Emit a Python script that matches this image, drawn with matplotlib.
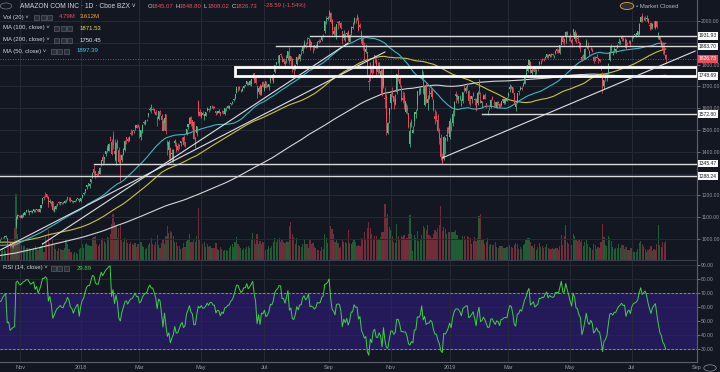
import numpy as np
import pandas as pd
import matplotlib
matplotlib.use("Agg")
import matplotlib.pyplot as plt
from matplotlib.patches import Rectangle, Circle
from matplotlib.transforms import blended_transform_factory

# ---- data -------------------------------------------------------------
# daily closes before the visible window (only used to warm up MA / RSI), Dec 19 2016 - Oct 6 2017
history_close = [
    766, 771, 770, 761, 760, 771, 785, 782, 750,
    753, 757, 780, 796, 799, 796, 799, 813, 817, 809, 808, 810, 808, 818, 823, 837, 839, 836, 831, 823,
    833, 840, 810, 808, 813, 820, 821, 821, 836, 838, 842, 842, 846, 856, 855, 852, 845, 848, 845,
    853, 852, 849, 847, 848, 853, 852, 852, 854, 852, 852, 853, 852, 848, 843, 848, 842, 846, 850, 856, 875, 877, 886,
    891, 906, 909, 898, 894, 902, 896, 884, 884, 901, 903, 899, 902, 898, 907, 909, 907, 918, 925,
    948, 946, 941, 937, 934, 949, 952, 949, 947, 961, 966, 975, 953, 958, 959, 970, 980, 981, 994, 995, 997, 994,
    995, 1012, 1011, 1003, 1011, 1010, 978, 965, 980, 976, 964, 987, 995, 1002, 1003, 1002, 1003, 993, 980, 990, 975, 969,
    953, 971, 978, 996, 996, 994, 1006, 1006, 1001, 1010, 1024, 1027, 1025, 1026, 1039, 1043, 1052, 1046, 1020, 1021,
    996, 995, 987, 988, 989, 982, 987, 957, 967, 983, 977, 978, 961, 958, 953, 966, 958, 952, 945, 946, 954, 967, 980,
    966, 965, 980, 979, 965, 977, 983, 999, 993, 987, 974, 969, 973, 964, 955, 939, 938, 950, 956, 961,
    959, 957, 965, 980, 989,
]

# visible daily candles, Oct 9 2017 - Aug 2 2019
open_ = [
    993, 992, 990, 997, 1003, 1008, 1007, 1010, 1003, 987, 982, 970, 969, 980, 1058, 1096, 1109,
    1105, 1097, 1112, 1110, 1125, 1132, 1126, 1126, 1124, 1130, 1127, 1132, 1138, 1126, 1142, 1162, 1192, 1196, 1205, 1194, 1171,
    1172, 1173, 1128, 1138, 1156, 1170, 1163, 1166, 1170, 1164, 1179, 1187, 1189, 1190, 1175, 1173, 1169, 1180, 1185, 1182,
    1173, 1189, 1206, 1218, 1237, 1253, 1242, 1260, 1280, 1323, 1313, 1296, 1312, 1298, 1338, 1375, 1368, 1392, 1409, 1404, 1451,
    1445, 1477, 1402, 1361, 1449, 1406, 1361, 1364, 1388, 1406, 1468, 1460, 1449, 1485, 1496, 1495, 1509, 1524, 1519,
    1513, 1470, 1494, 1533, 1527, 1550, 1563, 1592, 1616, 1597, 1596, 1584, 1555, 1550, 1586, 1565, 1539, 1530, 1572, 1447, 1406,
    1417, 1392, 1359, 1441, 1429, 1426, 1431, 1439, 1465, 1469, 1446, 1482, 1512, 1529, 1560, 1547, 1535, 1459, 1485, 1634, 1582,
    1564, 1580, 1566, 1563, 1589, 1598, 1601, 1608, 1610, 1604, 1587, 1580, 1580, 1581, 1586, 1589, 1573, 1601, 1603, 1600, 1618, 1624,
    1637, 1649, 1672, 1699, 1699, 1683, 1681, 1693, 1707, 1709, 1714, 1707, 1709, 1742, 1760, 1742, 1703, 1673, 1708, 1672, 1718,
    1683, 1723, 1705, 1697, 1724, 1746, 1718, 1764, 1803, 1820, 1811, 1849, 1830, 1826, 1812, 1829, 1829, 1840, 1839, 1827, 1786,
    1784, 1803, 1837, 1825, 1855, 1861, 1883, 1888, 1898, 1919, 1909, 1903, 1885, 1890, 1878, 1876, 1907, 1910, 1915, 1937, 1953, 1998, 2007,
    2026, 2038, 2006, 1939, 1971, 1928, 1994, 1999, 1992, 1954, 1923, 1941, 1939, 1954, 1904, 1943, 1968, 1993, 2005,
    2021, 1999, 1981, 1949, 1917, 1874, 1860, 1858, 1724, 1808, 1795, 1783, 1842, 1821, 1785, 1784, 1742, 1773, 1703, 1649, 1660, 1487, 1569,
    1623, 1678, 1658, 1619, 1673, 1755, 1732, 1698, 1649, 1656, 1581, 1600, 1578, 1437, 1543, 1487, 1540, 1575, 1614, 1674, 1679,
    1769, 1757, 1615, 1705, 1624, 1679, 1670, 1680, 1638, 1566, 1565, 1544, 1484, 1464, 1378, 1368, 1455, 1474, 1510,
    1466, 1520, 1531, 1587, 1664, 1653, 1642, 1641, 1616, 1632, 1684, 1681, 1713, 1681, 1657, 1642, 1670, 1644, 1640, 1623, 1692,
    1639, 1624, 1643, 1660, 1626, 1586, 1600, 1604, 1648, 1624, 1627, 1601, 1630, 1619, 1613, 1642, 1625, 1628, 1634,
    1655, 1686, 1702, 1696, 1668, 1604, 1626, 1678, 1684, 1691, 1703, 1713, 1753, 1770, 1797, 1810, 1760, 1787, 1785, 1771, 1786,
    1801, 1811, 1826, 1820, 1829, 1833, 1845, 1841, 1848, 1849, 1842, 1852, 1872, 1868, 1855, 1891, 1926, 1917, 1929, 1950, 1931,
    1933, 1913, 1950, 1918, 1940, 1919, 1900, 1898, 1836, 1838, 1827, 1885, 1887, 1852, 1874, 1866, 1837, 1836, 1832, 1828, 1826, 1791,
    1760, 1700, 1749, 1737, 1763, 1822, 1883, 1855, 1866, 1864, 1876, 1901, 1907, 1933, 1916, 1913, 1912, 1898, 1902, 1910,
    1922, 1935, 1935, 1934, 1935, 1940, 1996, 2025, 2008, 2021, 2010, 2008, 1980, 1991, 1971, 1996, 1970, 2001, 1942, 1930, 1891, 1898,
    1871, 1845,
]
high = [
    1000, 998, 996, 1002, 1007, 1011, 1014, 1017, 1004, 993, 984, 974, 977, 987, 1106, 1114, 1111,
    1112, 1113, 1120, 1125, 1133, 1136, 1130, 1131, 1132, 1138, 1137, 1138, 1139, 1140, 1158, 1189, 1197, 1214, 1205, 1195, 1182,
    1175, 1175, 1151, 1156, 1163, 1173, 1172, 1172, 1172, 1178, 1182, 1194, 1192, 1191, 1177, 1175, 1178, 1184, 1188, 1184,
    1190, 1206, 1216, 1229, 1248, 1259, 1255, 1277, 1306, 1339, 1314, 1305, 1313, 1328, 1364, 1388, 1378, 1402, 1431, 1440, 1473,
    1459, 1495, 1459, 1444, 1460, 1421, 1388, 1392, 1416, 1452, 1468, 1466, 1471, 1503, 1502, 1500, 1522, 1527, 1529,
    1518, 1501, 1526, 1542, 1546, 1552, 1579, 1606, 1617, 1606, 1596, 1590, 1563, 1587, 1591, 1573, 1549, 1556, 1575, 1455, 1455,
    1421, 1415, 1411, 1459, 1447, 1439, 1438, 1450, 1469, 1475, 1447, 1503, 1528, 1561, 1566, 1548, 1539, 1469, 1517, 1638, 1597,
    1584, 1588, 1575, 1584, 1606, 1601, 1609, 1615, 1611, 1611, 1589, 1588, 1595, 1584, 1592, 1589, 1602, 1606, 1614, 1615, 1626, 1634,
    1646, 1666, 1699, 1701, 1700, 1690, 1699, 1705, 1709, 1725, 1720, 1728, 1736, 1763, 1762, 1743, 1705, 1702, 1713, 1705, 1723,
    1714, 1725, 1710, 1711, 1740, 1750, 1756, 1797, 1814, 1844, 1843, 1851, 1841, 1831, 1821, 1845, 1864, 1880, 1840, 1829, 1801,
    1798, 1837, 1842, 1847, 1870, 1889, 1915, 1902, 1926, 1921, 1916, 1905, 1888, 1891, 1895, 1906, 1917, 1916, 1927, 1942, 1999, 2025, 2022,
    2050, 2040, 2007, 1969, 1979, 1988, 2000, 2000, 1994, 1956, 1958, 1945, 1949, 1957, 1940, 1975, 1996, 2017, 2012,
    2033, 2017, 1990, 1958, 1929, 1903, 1895, 1858, 1755, 1812, 1796, 1819, 1845, 1830, 1810, 1810, 1779, 1778, 1794, 1699, 1665, 1536, 1598,
    1670, 1697, 1658, 1665, 1759, 1784, 1744, 1708, 1677, 1673, 1626, 1614, 1578, 1535, 1550, 1517, 1582, 1597, 1677, 1694, 1696,
    1778, 1770, 1701, 1719, 1660, 1696, 1705, 1692, 1643, 1597, 1585, 1572, 1509, 1480, 1396, 1473, 1469, 1514, 1520,
    1553, 1538, 1594, 1634, 1677, 1667, 1656, 1660, 1640, 1675, 1705, 1700, 1716, 1682, 1657, 1657, 1673, 1645, 1647, 1679, 1736,
    1673, 1634, 1665, 1672, 1626, 1591, 1610, 1640, 1656, 1637, 1629, 1634, 1634, 1624, 1634, 1646, 1640, 1641, 1651,
    1674, 1710, 1707, 1697, 1669, 1622, 1670, 1683, 1701, 1702, 1719, 1747, 1784, 1800, 1823, 1818, 1788, 1790, 1787, 1780, 1787,
    1815, 1821, 1830, 1829, 1838, 1850, 1848, 1848, 1851, 1851, 1846, 1869, 1876, 1871, 1888, 1929, 1929, 1923, 1955, 1956, 1931,
    1944, 1921, 1964, 1959, 1950, 1935, 1910, 1903, 1846, 1850, 1874, 1917, 1904, 1867, 1880, 1874, 1838, 1840, 1849, 1829, 1826, 1796,
    1766, 1730, 1752, 1760, 1806, 1884, 1894, 1865, 1880, 1874, 1896, 1922, 1913, 1935, 1925, 1920, 1916, 1903, 1911, 1912,
    1929, 1935, 1941, 1945, 1955, 1990, 2024, 2035, 2017, 2023, 2026, 2013, 1987, 1996, 1990, 1998, 2001, 2002, 1951, 1933, 1914, 1899,
    1897, 1849,
]
low = [
    985, 984, 985, 993, 1000, 1004, 1005, 1006, 976, 980, 962, 964, 961, 972, 1052, 1093, 1101,
    1095, 1096, 1100, 1108, 1122, 1126, 1110, 1124, 1121, 1124, 1122, 1129, 1125, 1125, 1141, 1160, 1178, 1191, 1189, 1145, 1164,
    1152, 1129, 1124, 1137, 1151, 1159, 1158, 1162, 1162, 1163, 1169, 1180, 1176, 1172, 1170, 1166, 1168, 1174, 1180, 1169,
    1170, 1188, 1201, 1211, 1230, 1242, 1235, 1258, 1278, 1292, 1280, 1284, 1289, 1296, 1337, 1338, 1350, 1381, 1401, 1402, 1448,
    1385, 1414, 1358, 1339, 1415, 1350, 1265, 1352, 1387, 1402, 1436, 1446, 1448, 1478, 1475, 1486, 1499, 1511, 1512,
    1465, 1455, 1487, 1528, 1522, 1542, 1560, 1586, 1578, 1590, 1578, 1569, 1518, 1545, 1567, 1542, 1495, 1499, 1482, 1386, 1366,
    1356, 1355, 1352, 1428, 1397, 1402, 1415, 1428, 1449, 1428, 1424, 1478, 1505, 1527, 1520, 1503, 1460, 1417, 1474, 1566, 1566,
    1554, 1567, 1545, 1562, 1587, 1581, 1592, 1600, 1597, 1599, 1571, 1575, 1578, 1566, 1580, 1575, 1568, 1587, 1600, 1597, 1613, 1621,
    1635, 1643, 1670, 1679, 1683, 1673, 1681, 1693, 1701, 1708, 1708, 1706, 1702, 1740, 1717, 1711, 1646, 1663, 1660, 1662, 1699,
    1678, 1692, 1696, 1683, 1715, 1728, 1717, 1762, 1796, 1807, 1793, 1834, 1811, 1803, 1791, 1809, 1822, 1802, 1792, 1766, 1754,
    1776, 1800, 1820, 1818, 1843, 1855, 1876, 1877, 1893, 1900, 1869, 1883, 1855, 1866, 1876, 1875, 1900, 1902, 1909, 1928, 1945, 1987, 2004,
    2013, 1989, 1935, 1938, 1931, 1917, 1962, 1981, 1963, 1895, 1913, 1902, 1927, 1910, 1902, 1937, 1962, 1988, 1993,
    2003, 1955, 1966, 1898, 1868, 1820, 1854, 1754, 1685, 1726, 1740, 1761, 1807, 1749, 1756, 1761, 1685, 1656, 1692, 1603, 1476, 1480, 1534,
    1598, 1651, 1595, 1614, 1665, 1725, 1699, 1631, 1625, 1597, 1576, 1573, 1511, 1420, 1515, 1485, 1518, 1557, 1590, 1662, 1666,
    1731, 1665, 1609, 1625, 1590, 1640, 1660, 1641, 1585, 1528, 1542, 1490, 1436, 1363, 1345, 1363, 1391, 1450, 1485,
    1460, 1497, 1519, 1566, 1625, 1637, 1625, 1637, 1611, 1626, 1675, 1668, 1683, 1617, 1612, 1625, 1658, 1614, 1586, 1615, 1666,
    1622, 1601, 1643, 1640, 1600, 1571, 1590, 1600, 1637, 1607, 1604, 1600, 1614, 1600, 1609, 1632, 1620, 1620, 1633,
    1651, 1674, 1689, 1668, 1620, 1586, 1626, 1661, 1683, 1684, 1703, 1712, 1745, 1768, 1787, 1763, 1750, 1771, 1749, 1759, 1772,
    1798, 1801, 1815, 1816, 1825, 1829, 1828, 1835, 1836, 1838, 1832, 1848, 1855, 1855, 1850, 1889, 1898, 1888, 1901, 1934, 1906,
    1910, 1882, 1938, 1910, 1900, 1910, 1875, 1856, 1818, 1830, 1825, 1883, 1868, 1842, 1866, 1856, 1806, 1816, 1828, 1806, 1812, 1773,
    1672, 1690, 1723, 1726, 1755, 1818, 1858, 1845, 1860, 1855, 1874, 1893, 1893, 1906, 1909, 1904, 1872, 1889, 1898, 1884,
    1909, 1921, 1930, 1925, 1932, 1938, 1995, 1995, 2003, 2001, 2001, 1992, 1960, 1962, 1962, 1974, 1963, 1967, 1918, 1905, 1879, 1849,
    1844, 1808,
]
close = [
    990, 987, 995, 1000, 1002, 1009, 1013, 1016, 981, 982, 968, 970, 972, 973, 1100, 1110, 1105,
    1103, 1111, 1120, 1124, 1132, 1132, 1129, 1126, 1130, 1136, 1127, 1137, 1129, 1139, 1156, 1186, 1186, 1195, 1193, 1161, 1176,
    1162, 1133, 1141, 1152, 1160, 1163, 1168, 1165, 1164, 1174, 1179, 1191, 1187, 1177, 1175, 1168, 1176, 1182, 1186, 1169,
    1189, 1204, 1210, 1229, 1247, 1254, 1254, 1276, 1305, 1304, 1295, 1293, 1294, 1327, 1362, 1357, 1377, 1402, 1418, 1438, 1450,
    1390, 1430, 1390, 1442, 1417, 1351, 1339, 1386, 1414, 1451, 1461, 1448, 1468, 1482, 1485, 1500, 1522, 1511, 1512,
    1493, 1500, 1524, 1537, 1545, 1551, 1579, 1598, 1591, 1591, 1582, 1571, 1544, 1586, 1581, 1544, 1495, 1555, 1497, 1431, 1447,
    1371, 1392, 1410, 1451, 1406, 1407, 1428, 1448, 1460, 1431, 1441, 1503, 1527, 1557, 1527, 1517, 1460, 1461, 1517, 1573, 1566,
    1582, 1570, 1572, 1581, 1601, 1593, 1609, 1610, 1602, 1601, 1577, 1588, 1587, 1572, 1585, 1581, 1602, 1603, 1611, 1612, 1625, 1630,
    1642, 1665, 1696, 1696, 1689, 1683, 1690, 1704, 1704, 1723, 1715, 1724, 1734, 1750, 1731, 1716, 1663, 1691, 1660, 1701, 1699,
    1713, 1693, 1699, 1710, 1740, 1739, 1755, 1797, 1813, 1823, 1843, 1842, 1813, 1813, 1802, 1829, 1864, 1808, 1818, 1780, 1777,
    1797, 1834, 1823, 1847, 1848, 1886, 1898, 1886, 1896, 1920, 1882, 1885, 1882, 1876, 1883, 1904, 1902, 1905, 1927, 1932, 1998, 2002, 2012,
    2039, 1994, 1958, 1952, 1939, 1987, 1990, 1989, 1970, 1909, 1941, 1926, 1944, 1915, 1934, 1974, 1974, 2012, 2003,
    2004, 1960, 1971, 1909, 1890, 1864, 1870, 1755, 1719, 1789, 1760, 1819, 1831, 1770, 1764, 1789, 1769, 1664, 1782, 1642, 1538, 1530, 1599,
    1665, 1665, 1627, 1642, 1755, 1754, 1713, 1637, 1636, 1632, 1631, 1593, 1512, 1496, 1516, 1502, 1581, 1581, 1677, 1674, 1690,
    1772, 1669, 1700, 1630, 1642, 1643, 1663, 1650, 1591, 1551, 1551, 1495, 1460, 1377, 1350, 1470, 1462, 1478, 1502,
    1539, 1500, 1575, 1629, 1656, 1659, 1656, 1641, 1617, 1674, 1683, 1693, 1696, 1632, 1640, 1654, 1670, 1637, 1594, 1670, 1718,
    1626, 1634, 1658, 1640, 1614, 1588, 1591, 1638, 1640, 1622, 1608, 1627, 1622, 1602, 1632, 1633, 1640, 1641, 1640,
    1672, 1696, 1692, 1669, 1626, 1620, 1670, 1673, 1691, 1686, 1713, 1742, 1761, 1798, 1820, 1765, 1774, 1784, 1766, 1774, 1781,
    1814, 1813, 1820, 1819, 1837, 1849, 1835, 1847, 1844, 1843, 1845, 1863, 1864, 1862, 1888, 1923, 1902, 1902, 1951, 1938, 1926,
    1912, 1900, 1962, 1951, 1921, 1918, 1899, 1890, 1822, 1840, 1871, 1908, 1870, 1859, 1877, 1864, 1816, 1824, 1836, 1819, 1816, 1775,
    1692, 1729, 1738, 1754, 1805, 1860, 1863, 1855, 1870, 1870, 1887, 1901, 1908, 1918, 1911, 1913, 1878, 1897, 1904, 1893,
    1922, 1935, 1939, 1943, 1953, 1988, 2017, 2001, 2011, 2020, 2010, 1992, 1977, 1964, 1985, 1994, 2001, 1973, 1943, 1912, 1899, 1867,
    1855, 1827,
]
# volume, millions of shares
volume = [
    3.0, 2.7, 2.5, 2.4, 2.3, 3.0, 2.7, 2.3, 5.1, 3.5, 4.4, 3.4, 4.0, 8.0, 16.6, 6.6, 4.5,
    3.7, 3.7, 3.6, 3.5, 3.1, 3.1, 3.0, 2.7, 2.6, 3.1, 3.4, 2.8, 2.6, 2.9, 3.6, 4.3, 2.0, 6.0, 4.6, 7.5, 4.2,
    3.7, 4.9, 3.7, 2.7, 2.2, 3.0, 2.7, 2.6, 2.6, 2.9, 5.1, 4.1, 2.7, 2.1, 2.0, 1.6, 2.1, 1.8, 1.5, 2.7,
    3.0, 4.0, 3.0, 4.0, 4.2, 3.7, 3.6, 3.6, 5.5, 5.8, 5.9, 3.9, 3.6, 4.0, 5.3, 5.6, 4.8, 4.2, 5.7, 5.6, 6.6,
    9.0, 11.5, 9.6, 8.4, 5.6, 8.1, 8.8, 5.0, 4.6, 5.4, 5.1, 4.2, 3.9, 4.6, 3.9, 3.7, 4.3, 3.3, 3.9,
    4.2, 4.6, 3.6, 3.2, 2.8, 3.0, 3.7, 4.2, 5.6, 3.9, 3.8, 4.5, 6.2, 3.8, 3.0, 4.3, 5.3, 4.0, 6.0, 8.4, 6.8,
    7.3, 7.1, 6.0, 4.6, 4.6, 3.5, 3.4, 2.8, 3.0, 4.2, 3.3, 4.8, 4.9, 6.5, 4.6, 4.4, 5.3, 4.6, 5.9, 13.0, 5.2,
    3.7, 3.9, 4.5, 3.3, 4.1, 3.2, 3.5, 3.0, 3.0, 2.9, 4.2, 2.8, 2.5, 3.3, 2.7, 2.3, 2.6, 2.4, 2.2, 3.0, 3.4, 4.1,
    3.3, 4.4, 5.8, 4.0, 3.6, 2.9, 2.4, 2.9, 2.8, 3.2, 3.4, 3.0, 5.0, 6.7, 5.2, 4.1, 6.6, 4.1, 4.8, 4.0, 4.6,
    3.3, 2.5, 2.7, 3.4, 3.1, 3.5, 4.4, 5.4, 4.6, 5.3, 5.4, 4.6, 5.2, 4.4, 4.2, 4.7, 4.4, 8.6, 9.5, 6.6, 5.7,
    4.0, 5.4, 3.7, 3.4, 3.3, 4.0, 5.0, 3.9, 4.1, 3.1, 5.0, 4.0, 4.2, 3.3, 2.9, 2.6, 2.5, 2.2, 3.2, 2.7, 6.5, 5.6, 4.2,
    5.6, 8.4, 7.7, 6.5, 4.5, 5.0, 4.3, 2.9, 3.2, 5.3, 4.5, 4.4, 4.2, 7.6, 4.2, 3.9, 4.5, 5.0, 4.5,
    3.4, 3.8, 3.5, 5.4, 5.1, 7.0, 5.2, 8.1, 9.4, 7.9, 6.4, 5.3, 6.0, 5.9, 5.3, 5.1, 5.8, 7.0, 6.9, 14.0, 10.8, 11.6, 8.2,
    7.6, 6.1, 4.5, 4.3, 8.9, 6.0, 5.0, 6.0, 5.7, 6.3, 5.1, 5.5, 6.4, 11.3, 6.6, 2.3, 6.3, 5.6, 7.3, 4.8, 5.2,
    6.2, 8.5, 8.0, 7.6, 8.7, 6.2, 6.0, 5.5, 6.4, 7.5, 7.0, 8.1, 8.8, 13.6, 7.2, 8.2, 7.8, 6.4, 6.9,
    7.0, 6.9, 7.0, 7.0, 7.5, 6.3, 5.2, 4.9, 5.0, 6.0, 6.1, 5.0, 6.0, 5.8, 5.4, 3.9, 4.8, 5.8, 4.8, 5.6, 10.9,
    11.5, 4.9, 4.9, 3.9, 4.4, 5.5, 3.7, 4.1, 3.7, 3.7, 4.6, 3.3, 3.0, 3.5, 3.5, 3.5, 3.1, 3.0, 3.2,
    2.9, 3.8, 3.3, 3.1, 3.8, 4.2, 3.9, 2.8, 3.2, 2.8, 3.8, 4.1, 4.9, 5.5, 5.5, 4.4, 3.4, 3.1, 3.9, 2.6, 3.2,
    4.3, 3.2, 3.6, 3.1, 3.3, 3.9, 2.9, 2.7, 2.7, 3.1, 2.7, 3.1, 3.0, 2.6, 3.5, 6.3, 3.7, 5.9, 8.8, 4.5, 3.9,
    3.4, 3.8, 6.5, 5.9, 5.0, 4.7, 5.3, 4.6, 5.3, 3.5, 4.6, 4.9, 3.9, 3.3, 2.9, 2.6, 4.1, 3.8, 2.7, 3.2, 3.0, 4.6,
    9.1, 5.7, 3.8, 3.5, 6.0, 5.4, 4.8, 3.2, 2.8, 2.9, 3.0, 3.9, 3.0, 3.7, 3.8, 2.8, 3.2, 2.6, 2.6, 3.0,
    2.9, 2.0, 1.9, 2.1, 2.7, 4.2, 4.8, 3.9, 3.4, 2.8, 2.1, 2.4, 2.8, 3.6, 2.2, 2.7, 2.6, 4.1, 8.7, 3.8, 3.3, 4.5,
    4.2, 4.8,
]

last_date = "2019-08-02"
market_holidays = [
    "2017-01-02", "2017-01-16", "2017-02-20", "2017-04-14", "2017-05-29", "2017-07-04", "2017-09-04",
    "2017-11-23", "2017-12-25", "2018-01-01", "2018-01-15", "2018-02-19", "2018-03-30", "2018-05-28",
    "2018-07-04", "2018-09-03", "2018-11-22", "2018-12-05", "2018-12-25", "2019-01-01", "2019-01-21",
    "2019-02-18", "2019-04-19", "2019-05-27", "2019-07-04", "2019-09-02",
]

# drawn objects: horizontal levels (price, start date), the zone and the trend lines
level_prices = [1931.93, 1883.70, 1572.80, 1345.47, 1288.24]
level_start = ["2018-08-15", "2018-07-13", "2019-02-04", "2018-01-16", "2017-10-10"]
zone_start, zone_low, zone_high = "2018-06-04", 1748.69, 1790.0
trend_lines = [
    (("2017-11-22", 977), ("2018-09-21", 1899)),
    (("2017-10-11", 945), ("2018-10-26", 1858)),
    (("2018-12-24", 1372), ("2019-08-30", 1862)),
]
last_price = 1826.73

# ---- derived series --------------------------------------------------
m = min(len(open_), len(high), len(low), len(close), len(volume))
o = np.array(open_[-m:], float)
h = np.array(high[-m:], float)
l = np.array(low[-m:], float)
c = np.array(close[-m:], float)
v = np.array(volume[-m:], float)

all_close = pd.Series(list(history_close) + list(c))
cal = pd.bdate_range("2016-11-01", "2019-10-31", freq="C", holidays=market_holidays)
end_pos = cal.get_loc(pd.Timestamp(last_date))
n_all = len(all_close)
x_all = np.arange(end_pos - n_all + 1, end_pos + 1)
xv = x_all[-m:]

ma50 = all_close.rolling(50).mean().values
ma100 = all_close.rolling(100).mean().values
ma200 = all_close.rolling(200).mean().values

delta = all_close.diff()
gain = delta.clip(lower=0).ewm(alpha=1 / 14, adjust=False).mean()
loss = (-delta.clip(upper=0)).ewm(alpha=1 / 14, adjust=False).mean()
rsi = (100 - 100 / (1 + gain / loss)).values


def xpos(d):
    return cal.searchsorted(pd.Timestamp(d))


# ---- style ------------------------------------------------------------
BG = "#131722"
GRID = "#262a37"
TXT = "#9598a1"
UP = "#53b987"
DOWN = "#eb4d5c"
VUP = "#1f5e35"
VDOWN = "#702c38"
plt.rcParams["font.family"] = ["Liberation Sans", "DejaVu Sans"]

W, H = 720, 372
fig = plt.figure(figsize=(7.2, 3.72), dpi=100, facecolor=BG)


def fx(px):
    return px / W


def fy(py):
    return 1 - py / H


ax_vol = fig.add_axes([0, fy(260), fx(697), 260 / H], facecolor=BG)
ax = fig.add_axes([0, fy(260), fx(697), 260 / H], sharex=ax_vol)
ax_rsi = fig.add_axes([0, fy(362), fx(697), 101 / H], sharex=ax_vol, facecolor=BG)
ax.patch.set_alpha(0)
ax_vol.set_zorder(0)
ax.set_zorder(1)

x27 = xpos("2017-10-27")
x_lo, x_hi = x27 - 10.9, x27 + 463.3

# month ticks every two months
ticks, labels = [], []
for i in range(1, len(cal)):
    if cal[i].month != cal[i - 1].month and cal[i].month in (1, 3, 5, 7, 9, 11):
        ticks.append(i)
        labels.append(str(cal[i].year) if cal[i].month == 1 else cal[i].strftime("%b"))
ax_rsi.set_xticks(ticks)
ax_rsi.set_xticklabels(labels)
for a in (ax, ax_vol, ax_rsi):
    a.grid(axis="x", color=GRID, lw=0.7)
    for s in a.spines.values():
        s.set_visible(False)
ax.tick_params(axis="x", labelbottom=False, length=0)
ax_vol.tick_params(axis="both", labelbottom=False, labelleft=False, length=0)
ax_vol.set_yticks([])
ax_rsi.tick_params(axis="x", colors=TXT, labelsize=4, length=0, pad=2.5)

# price scale: 1300 and 1900 labels sit under the level tags
ax.set_yticks([1000, 1100, 1200, 1400, 1500, 1600, 1700, 1800, 2000, 2100])
for p in (1300, 1900):
    ax.axhline(p, color=GRID, lw=0.7, zorder=0)
ax.yaxis.tick_right()
ax.yaxis.set_major_formatter(matplotlib.ticker.FormatStrFormatter("%.2f"))
ax.tick_params(axis="y", colors=TXT, labelsize=3.6, length=2, width=0.5, pad=1)
ax.grid(axis="y", color=GRID, lw=0.7)
ax.spines["right"].set_visible(True)
ax.spines["right"].set_color("#5d606b")
ax.spines["right"].set_linewidth(0.8)
ax.spines["bottom"].set_visible(True)
ax.spines["bottom"].set_color("#3a3e4a")

ax_rsi.set_yticks(np.arange(30, 91, 10))
ax_rsi.yaxis.tick_right()
ax_rsi.yaxis.set_major_formatter(matplotlib.ticker.FormatStrFormatter("%.2f"))
ax_rsi.tick_params(axis="y", colors=TXT, labelsize=3.6, length=2, width=0.5, pad=1)
ax_rsi.grid(axis="y", color=GRID, lw=0.7)
ax_rsi.spines["right"].set_visible(True)
ax_rsi.spines["right"].set_color("#5d606b")
ax_rsi.spines["right"].set_linewidth(0.8)
ax_rsi.spines["bottom"].set_visible(True)
ax_rsi.spines["bottom"].set_color("#5d606b")

# ---- volume -----------------------------------------------------------
up = c >= o
ax_vol.bar(xv, v, width=0.8, color=np.where(up, VUP, VDOWN), linewidth=0)

# ---- candles ----------------------------------------------------------
col = np.where(up, UP, DOWN)
ax.vlines(xv, l, h, colors=col, linewidth=0.55, zorder=3)
body = np.where(np.abs(c - o) < 2, 2, c - o)
ax.bar(xv, body, bottom=o, width=0.7, color=col, linewidth=0, zorder=3)

# ---- moving averages --------------------------------------------------
ax.plot(x_all, ma200, color="#d6d6d6", lw=0.8, zorder=2)
ax.plot(x_all, ma100, color="#c8c43c", lw=0.8, zorder=2)
ax.plot(x_all, ma50, color="#3bb6c6", lw=0.8, zorder=2)

# ---- drawings ---------------------------------------------------------
for p, s in zip(level_prices, level_start):
    ax.plot([xpos(s), x_hi], [p, p], color="#d9d9d9", lw=1.0, zorder=4)
ax.add_patch(Rectangle((xpos(zone_start), zone_low), x_hi - xpos(zone_start), zone_high - zone_low,
                       facecolor="none", edgecolor="white", lw=2.0, zorder=4))
for (d0, p0), (d1, p1) in trend_lines:
    ax.plot([xpos(d0), xpos(d1)], [p0, p1], color="#e0e0e0", lw=0.8, zorder=4)
ax.axhline(last_price, color=DOWN, lw=0.6, ls=(0, (1, 2)), zorder=2)

# value tags on the price scale
trans = blended_transform_factory(ax.transAxes, ax.transData)
for p in level_prices + [zone_low]:
    ax.text(1.003, p, f"{p:.2f}", transform=trans, fontsize=3.6, color="#131722", va="center", ha="left",
            bbox=dict(facecolor="white", edgecolor="none", pad=0.9), clip_on=False, zorder=6)
ax.text(1.003, last_price, f"{last_price:.2f}", transform=trans, fontsize=3.6, color="white", va="center",
        ha="left", bbox=dict(facecolor=DOWN, edgecolor="none", pad=0.9), clip_on=False, zorder=6)

# ---- RSI --------------------------------------------------------------
ax_rsi.axhspan(30, 70, color="#241a5a", lw=0, zorder=0)
ax_rsi.axhline(70, color="#9a9aa6", lw=0.6, ls=(0, (3, 2)))
ax_rsi.axhline(30, color="#9a9aa6", lw=0.6, ls=(0, (3, 2)))
ax_rsi.plot(x_all, rsi, color="#3fd23f", lw=0.7, zorder=3)

# limits last, after everything has been plotted
ax.set_xlim(x_lo, x_hi)
ax.set_ylim(903.7, 2096.3)
ax_vol.set_ylim(0, 65)
ax_rsi.set_ylim(20.7, 92.9)

# ---- header text ------------------------------------------------------
def icons(x0, y0):
    for k in range(3):
        fig.patches.append(Rectangle((fx(x0 + k * 6.5), fy(y0 + 2.5)), fx(5), 5 / H, transform=fig.transFigure,
                                     facecolor="#2a2e39", edgecolor="#6a6d78", lw=0.4))


fig.patches.append(Circle((fx(6), fy(6)), 3 / H, transform=fig.transFigure, facecolor="none",
                          edgecolor="#787b86", lw=0.5))
fig.text(fx(20), fy(6), "AMAZON COM INC · 1D · Cboe BZX ˅", color="#d1d4dc", fontsize=4.8, va="center")
ohlc = [("O", "1845.07", 148), ("H", "1848.80", 176), ("L", "1808.02", 204), ("C", "1826.73", 232)]
for k, val, xx in ohlc:
    fig.text(fx(xx), fy(6), k, color="#d1d4dc", fontsize=4.3, va="center")
    fig.text(fx(xx + 4), fy(6), val, color=DOWN, fontsize=4.3, va="center")
fig.text(fx(264), fy(6), "-28.59 (-1.54%)", color=DOWN, fontsize=4.3, va="center")

rows = [("Vol (20)", 17, 34, [("4.79M", DOWN, 59), ("3.612M", "#f5a623", 80)]),
        ("MA (100, close)", 28, 54, [("1871.53", "#e8e23a", 80)]),
        ("MA (200, close)", 40, 54, [("1750.45", "#e6e6e6", 80)]),
        ("MA (50, close)", 51, 51, [("1897.39", "#3bd0e0", 77)])]
for name, yy, xi, vals in rows:
    fig.text(fx(3), fy(yy), name + " ˅", color="#d1d4dc", fontsize=4.3, va="center")
    icons(xi, yy)
    for val, colr, xx in vals:
        fig.text(fx(xx), fy(yy), val, color=colr, fontsize=4.3, va="center")

fig.text(fx(3), fy(268), "RSI (14, close) ˅", color="#d1d4dc", fontsize=4.3, va="center")
icons(51, 268)
fig.text(fx(77), fy(268), "29.89", color="#3fd23f", fontsize=4.3, va="center")

fig.patches.append(Circle((fx(627), fy(6)), 3.5 / H, transform=fig.transFigure, facecolor="#2a2e39",
                          edgecolor="#f5a623", lw=0.6))
fig.text(fx(636), fy(6), "• Market Closed", color="#b2b5be", fontsize=4.3, va="center")

# small round control under the price scale
fig.patches.append(Circle((fx(710), fy(368)), 3.2 / H, transform=fig.transFigure, facecolor="none",
                          edgecolor="#9598a1", lw=0.5))

fig.savefig("out.png", dpi=100, facecolor=BG)
